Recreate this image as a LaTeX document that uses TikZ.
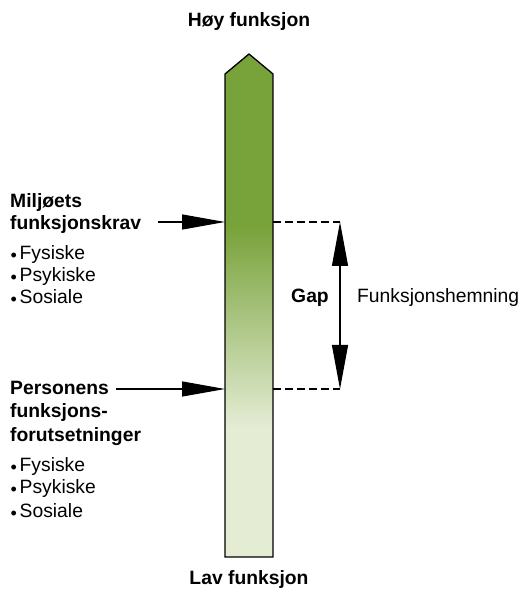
\documentclass[tikz,border=0pt]{standalone}
\usepackage{fontspec}
\setmainfont{Liberation Sans}
\usetikzlibrary{arrows.meta}
\definecolor{gdark}{HTML}{78A23A}
\definecolor{glight}{HTML}{E4ECD4}
\newcommand{\bul}{\makebox[9.5pt][l]{\hspace{0.5pt}\raisebox{-2pt}{\fontsize{18}{18}\selectfont •}}}
\begin{document}
\begin{tikzpicture}[x=1pt,y=1pt,
  txt/.style={font=\fontsize{19.3}{25}\selectfont, inner sep=0pt},
  bold/.style={txt, font=\fontsize{19.3}{25}\selectfont\bfseries},
  item/.style={txt, anchor=base west},
  head/.style={bold, anchor=base west},
  bigarrow/.style={-{Triangle[length=43pt,width=15pt]}, line width=1.2pt},
  gaparrow/.style={{Triangle[length=44pt,width=16pt]}-{Triangle[length=44pt,width=16pt]}, line width=1.2pt},
  dashline/.style={dash pattern=on 8pt off 4pt, line width=1.1pt}
]
\useasboundingbox (0,0) rectangle (523,601);
\fill[white] (0,0) rectangle (523,601);

% bar
\def\barpath{(225,44) -- (225,527) -- (249,547) -- (273,527) -- (273,44) -- cycle}
\begin{scope}
  \clip \barpath;
  \fill[gdark] (225,374) rectangle (273,548);
  \shade[bottom color=glight, top color=gdark] (225,174) rectangle (273,374.5);
  \fill[glight] (225,44) rectangle (273,174.5);
\end{scope}
\draw[line width=1.3pt] \barpath;

\coordinate (mleft) at (225,379);
\coordinate (pleft) at (225,212);
\coordinate (mright) at (273,379);
\coordinate (pright) at (273,212);
\coordinate (mcorner) at (340,379);
\coordinate (pcorner) at (340,212);
\coordinate (mstart) at (158,379);
\coordinate (pstart) at (116,212);

\node[bold] (hoy) at (249,579) {Høy funksjon};
\node[bold] (lav) at (249,21) {Lav funksjon};

\node[head] (m1) at (10,393) {Miljøets};
\node[head] (m2) at (10,371) {funksjonskrav};
\node[item] (m3) at (10,341) {\bul Fysiske};
\node[item] (m4) at (10,319) {\bul Psykiske};
\node[item] (m5) at (10,297) {\bul Sosiale};

\node[head] (p1) at (10,206) {Personens};
\node[head] (p2) at (10,183) {funksjons-};
\node[head] (p3) at (10,159) {forutsetninger};
\node[item] (p4) at (10,129) {\bul Fysiske};
\node[item] (p5) at (10,107) {\bul Psykiske};
\node[item] (p6) at (10,83) {\bul Sosiale};

\draw[bigarrow] (mstart) -- (mleft);
\draw[bigarrow] (pstart) -- (pleft);

\draw[dashline] (mright) -- (mcorner);
\draw[dashline] (pright) -- (pcorner);
\draw[gaparrow] (mcorner) -- (pcorner);

\node[bold] (gap) at (310,303) {Gap};
\node[txt, anchor=west] (fh) at (357,303) {Funksjonshemning};
\end{tikzpicture}
\end{document}
